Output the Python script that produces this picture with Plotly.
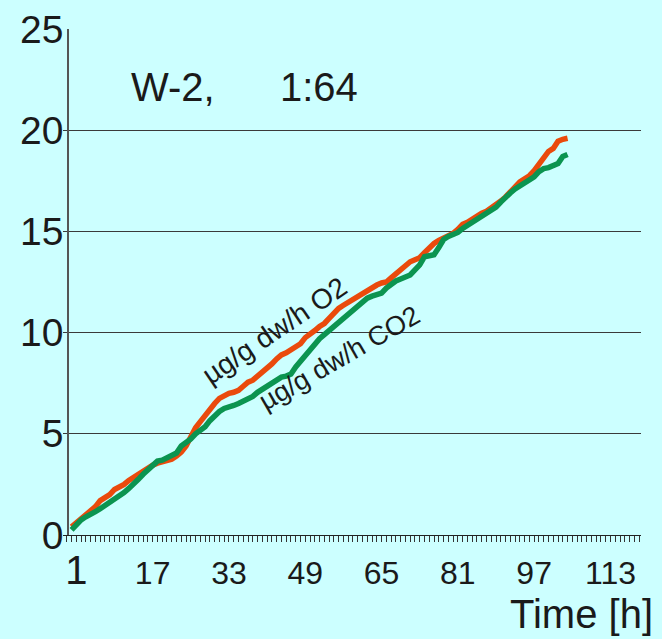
import plotly.graph_objects as go

hours = list(range(0, 105))

o2 = [0.40, 0.60, 0.85, 1.00, 1.20, 1.40, 1.70, 1.85, 2.00, 2.25,
      2.35, 2.50, 2.70, 2.85, 3.00, 3.20, 3.35, 3.45, 3.55, 3.60,
      3.70, 3.75, 3.90, 4.10, 4.40, 4.90, 5.30, 5.60, 5.90, 6.30,
      6.50, 6.75, 6.90, 7.00, 7.05, 7.15, 7.35, 7.55, 7.65, 7.85,
      8.00, 8.25, 8.45, 8.70, 8.90, 9.00, 9.15, 9.30, 9.45, 9.75,
      9.90, 10.10, 10.30, 10.45, 10.70, 10.95, 11.20, 11.35, 11.50, 11.60,
      11.80, 11.95, 12.10, 12.20, 12.35, 12.45, 12.50, 12.70, 12.90, 13.10,
      13.35, 13.50, 13.60, 13.70, 13.95, 14.20, 14.40, 14.55, 14.65, 14.80,
      14.90, 15.10, 15.35, 15.45, 15.60, 15.80, 15.90, 16.00, 16.15, 16.30,
      16.50, 16.70, 16.95, 17.20, 17.45, 17.60, 17.75, 18.00, 18.30, 18.70,
      18.95, 19.10, 19.45, 19.55, 19.60]

co2 = [0.25, 0.55, 0.75, 0.90, 1.00, 1.15, 1.30, 1.45, 1.60, 1.75,
       1.90, 2.10, 2.30, 2.50, 2.75, 3.00, 3.20, 3.45, 3.65, 3.70,
       3.80, 3.90, 4.05, 4.40, 4.55, 4.75, 5.00, 5.20, 5.35, 5.65,
       5.90, 6.10, 6.25, 6.30, 6.40, 6.50, 6.60, 6.70, 6.85, 7.05,
       7.20, 7.35, 7.50, 7.65, 7.80, 7.85, 7.95, 8.30, 8.60, 8.85,
       9.10, 9.40, 9.70, 9.90, 10.10, 10.30, 10.50, 10.70, 10.90, 11.10,
       11.30, 11.50, 11.70, 11.80, 11.85, 11.95, 12.20, 12.40, 12.55, 12.65,
       12.75, 12.85, 13.10, 13.35, 13.75, 13.80, 13.85, 14.20, 14.60, 14.75,
       14.85, 14.95, 15.15, 15.30, 15.45, 15.55, 15.70, 15.85, 16.00, 16.20,
       16.45, 16.70, 16.90, 17.10, 17.25, 17.40, 17.50, 17.70, 17.95, 18.10,
       18.15, 18.25, 18.35, 18.70, 18.80]

x_tick_vals = [1, 17, 33, 49, 65, 81, 97, 113]
x_tick_labels = ["1", "17", "33", "49", "65", "81", "97", "113"]
y_tick_vals = [0, 5, 10, 15, 20, 25]

label_o2 = "µg/g dw/h O2"
label_co2 = "µg/g dw/h CO2"
title_left = "W-2,"
title_right = "1:64"
x_title = "Time [h]"

BG = "#CCFFFF"
RED = "#EA4A0C"
GREEN = "#0B9450"
TXT = "#1a1a1a"
FONT = "Liberation Sans, Arial, sans-serif"

x_tick_text = ["<span style='font-size:40px'>%s</span>" % t if i == 0 else t
               for i, t in enumerate(x_tick_labels)]

fig = go.Figure()
fig.add_trace(go.Scatter(x=hours, y=o2, mode="lines",
                         line=dict(color=RED, width=5.5),
                         showlegend=False, hoverinfo="skip"))
fig.add_trace(go.Scatter(x=hours, y=co2, mode="lines",
                         line=dict(color=GREEN, width=5.5),
                         showlegend=False, hoverinfo="skip"))

fig.update_layout(
    width=662, height=639,
    margin=dict(l=63, r=21, t=29, b=104, pad=0),
    paper_bgcolor=BG, plot_bgcolor=BG,
    font=dict(family=FONT, color=TXT),
    xaxis=dict(
        range=[-1.8, 119.4], showgrid=False, zeroline=False, automargin=False,
        showline=True, linecolor="#222222", linewidth=1,
        tickmode="array", tickvals=x_tick_vals, ticktext=x_tick_text,
        ticks="", ticklabelstandoff=10,
        tickfont=dict(family=FONT, size=32, color=TXT),
        minor=dict(dtick=1, tick0=0, ticks="outside", ticklen=6, tickcolor="#333333", tickwidth=1),
        fixedrange=True,
    ),
    yaxis=dict(
        range=[0, 25], tickvals=y_tick_vals, automargin=False,
        showgrid=True, gridcolor="#3a3a3a", gridwidth=1,
        zeroline=False, showline=True, linecolor="#555555", linewidth=1.5,
        anchor="free", position=0.0087,
        ticks="", ticklabelstandoff=-4,
        tickfont=dict(family=FONT, size=39, color=TXT),
        fixedrange=True,
    ),
)

fig.add_annotation(text=title_left, xref="paper", yref="paper", x=0.115, y=0.885,
                   xanchor="left", yanchor="middle", showarrow=False,
                   font=dict(size=40, color=TXT))
fig.add_annotation(text=title_right, xref="paper", yref="paper", x=0.372, y=0.885,
                   xanchor="left", yanchor="middle", showarrow=False,
                   font=dict(size=40, color=TXT))
fig.add_annotation(text=x_title, xref="paper", yref="paper", x=1.024, y=-0.156,
                   xanchor="right", yanchor="middle", showarrow=False,
                   font=dict(family=FONT, size=40, color=TXT))
fig.add_annotation(text=label_o2, x=42.6, y=10.1, xref="x", yref="y",
                   xanchor="center", yanchor="middle", showarrow=False, textangle=-34,
                   font=dict(size=28, color=TXT))
fig.add_annotation(text=label_co2, x=56.2, y=8.75, xref="x", yref="y",
                   xanchor="center", yanchor="middle", showarrow=False, textangle=-30,
                   font=dict(size=27, color=TXT))

fig.write_html("out.html", config={"displayModeBar": False},
               post_script="document.body.style.margin='0';document.body.style.background='#CCFFFF';")
